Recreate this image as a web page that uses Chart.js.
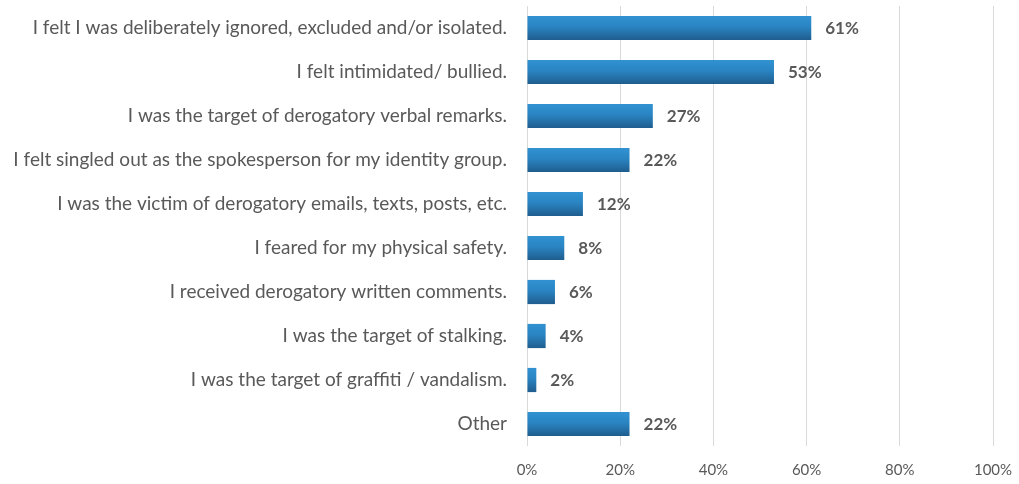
<!DOCTYPE html>
<html>
<head>
<meta charset="utf-8">
<script src="https://cdn.jsdelivr.net/npm/chart.js@4.4.1/dist/chart.umd.min.js"></script>
<style>
  html, body { margin: 0; padding: 0; background: #ffffff; }
  #wrap { width: 1019px; height: 484px; position: relative; }
</style>
</head>
<body>
<div id="wrap"><canvas id="chart" width="1019" height="484"></canvas></div>
<script>
const categories = [
  "I felt I was deliberately ignored, excluded and/or isolated.",
  "I felt intimidated/ bullied.",
  "I was the target of derogatory verbal remarks.",
  "I felt singled out as the spokesperson for my identity group.",
  "I was the victim of derogatory emails, texts, posts, etc.",
  "I feared for my physical safety.",
  "I received derogatory written comments.",
  "I was the target of stalking.",
  "I was the target of graffiti / vandalism.",
  "Other"
];
const percentValues = [61, 53, 27, 22, 12, 8, 6, 4, 2, 22];
const tickValues = [0, 20, 40, 60, 80, 100];

const textColor = "#595959";
const fontFamily = "Lato, 'Open Sans', sans-serif";

// Draws the "NN%" value next to each bar end
const valueLabels = {
  id: "valueLabels",
  afterDatasetsDraw(chart) {
    const ctx = chart.ctx;
    const meta = chart.getDatasetMeta(0);
    ctx.save();
    ctx.font = "bold 17px " + fontFamily;
    ctx.fillStyle = textColor;
    ctx.textAlign = "left";
    ctx.textBaseline = "middle";
    meta.data.forEach((bar, i) => {
      ctx.fillText(percentValues[i] + "%", bar.x + 14, bar.y + 1);
    });
    ctx.restore();
  }
};

// Vertical light-to-dark blue shading on each bar
function barGradient(context) {
  const chart = context.chart;
  const yScale = chart.scales.y;
  if (!yScale || context.dataIndex === undefined) return "#2a7dba";
  const cy = yScale.getPixelForValue(context.dataIndex);
  if (!isFinite(cy)) return "#2a7dba";
  const g = chart.ctx.createLinearGradient(0, cy - 12, 0, cy + 12);
  g.addColorStop(0, "#3192d2");
  g.addColorStop(0.45, "#2a84c2");
  g.addColorStop(1, "#1f5d8e");
  return g;
}

new Chart(document.getElementById("chart"), {
  type: "bar",
  data: {
    labels: categories,
    datasets: [{
      data: percentValues,
      backgroundColor: barGradient,
      borderWidth: 0,
      categoryPercentage: 1.0,
      barPercentage: 0.55
    }]
  },
  plugins: [valueLabels],
  options: {
    indexAxis: "y",
    responsive: false,
    animation: false,
    devicePixelRatio: 1,
    layout: { padding: { top: 6, right: 26, left: 0, bottom: 0 } },
    plugins: {
      legend: { display: false },
      tooltip: { enabled: false }
    },
    scales: {
      x: {
        min: 0,
        max: 100,
        afterBuildTicks(scale) {
          scale.ticks = tickValues.map(v => ({ value: v }));
        },
        afterFit(scale) {
          scale.height = 38;
          scale.paddingLeft = 0;
          scale.paddingRight = 0;
        },
        grid: { color: "#d9d9d9", lineWidth: 1, drawTicks: false },
        border: { display: false },
        ticks: {
          color: textColor,
          font: { family: fontFamily, size: 15 },
          padding: 15,
          callback: v => v + "%"
        }
      },
      y: {
        afterFit(scale) {
          scale.width = 527;
          scale.paddingTop = 0;
          scale.paddingBottom = 0;
        },
        grid: { display: false, drawTicks: false },
        border: { display: false },
        ticks: {
          color: textColor,
          font: { family: fontFamily, size: 19 },
          padding: 20,
          autoSkip: false
        }
      }
    }
  }
});
</script>
</body>
</html>
